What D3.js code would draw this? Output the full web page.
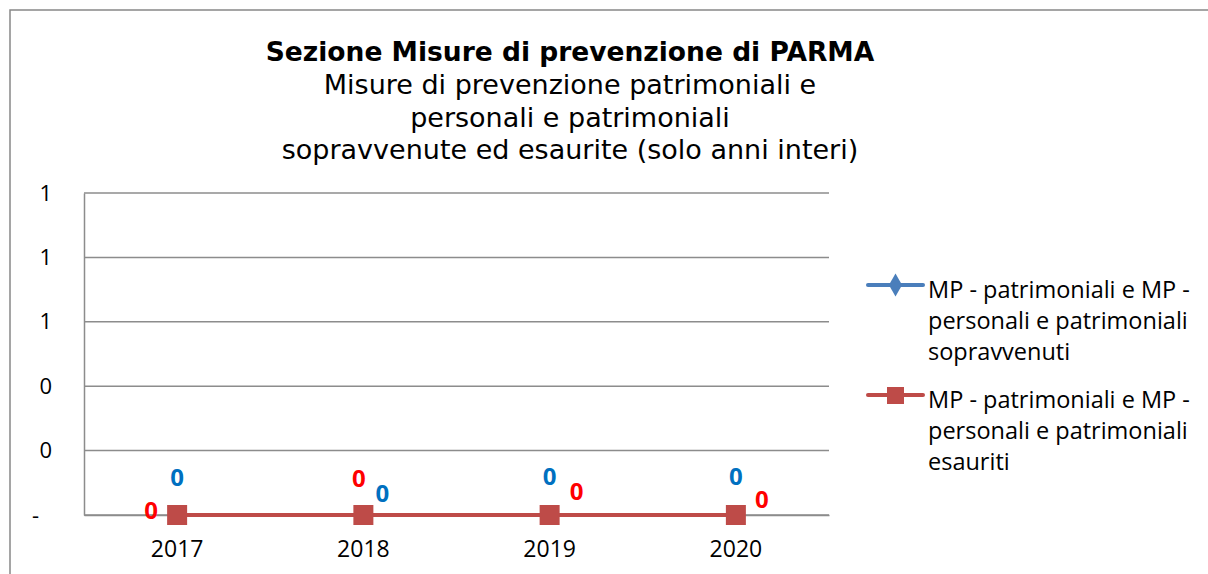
<!DOCTYPE html>
<html lang="it">
<head>
<meta charset="utf-8">
<title>Sezione Misure di prevenzione di PARMA</title>
<script src="https://d3js.org/d3.v7.min.js"></script>
<style>
  body { margin: 0; background: #fff; }
  svg text { font-family: "Open Sans", "Liberation Sans", sans-serif; }
</style>
</head>
<body>
<div id="chart"></div>
<script>
// data
var years = ["2017", "2018", "2019", "2020"];
var sopravvenuti = [0, 0, 0, 0];
var esauriti = [0, 0, 0, 0];
var yTicks = [0, 0.2, 0.4, 0.6, 0.8, 1];
var seriesNames = [
  ["MP - patrimoniali e MP -", "personali e patrimoniali", "sopravvenuti"],
  ["MP - patrimoniali e MP -", "personali e patrimoniali", "esauriti"]
];
var titleLines = ["Misure di prevenzione patrimoniali e", "personali e patrimoniali",
                  "sopravvenute ed esaurite (solo anni interi)"];

var W = 1208, H = 574;
var margin = {top: 193, right: 379, bottom: 59, left: 84},
    width = W - margin.left - margin.right,
    height = H - margin.top - margin.bottom;

var svg = d3.select("#chart").append("svg")
    .attr("width", W).attr("height", H);

// outer chart border
svg.append("rect")
    .attr("x", 10).attr("y", 10)
    .attr("width", W + 10).attr("height", H + 10)
    .attr("fill", "none").attr("stroke", "#888").attr("stroke-width", 1.5);

// title
svg.append("text")
    .attr("x", 570).attr("y", 61)
    .attr("text-anchor", "middle")
    .style("font-family", "'DejaVu Sans', sans-serif")
    .style("font-weight", "bold").style("font-size", "26.5px")
    .text("Sezione Misure di prevenzione di PARMA");
titleLines.forEach(function(t, i) {
  svg.append("text")
    .attr("x", 570).attr("y", 94 + i * 32.5)
    .attr("text-anchor", "middle")
    .style("font-family", "'DejaVu Sans', sans-serif")
    .style("font-size", "27px")
    .text(t);
});

var g = svg.append("g")
    .attr("transform", "translate(" + margin.left + "," + margin.top + ")");

var x = d3.scaleBand().domain(years).range([0, width]);
var y = d3.scaleLinear().domain([0, 1]).range([height, 0]);
var cx = function(d, i) { return x(years[i]) + x.bandwidth() / 2; };

// gridlines
g.selectAll(".grid").data(yTicks).enter().append("line")
    .attr("x1", 0).attr("x2", width)
    .attr("y1", function(d) { return y(d); })
    .attr("y2", function(d) { return y(d); })
    .attr("stroke", "#8c8c8c").attr("stroke-width", 1.5);

// y axis
var yAxis = g.append("g")
    .call(d3.axisLeft(y).tickValues(yTicks).tickSize(0).tickPadding(32)
      .tickFormat(function(d) { return d === 0 ? "-" : d3.format(".0f")(d); }));
yAxis.select(".domain").attr("stroke", "#8c8c8c").attr("stroke-width", 1.5);
yAxis.selectAll("text")
    .style("font-family", "'Open Sans', sans-serif")
    .style("font-size", "22px").attr("fill", "#000")
    .attr("dx", function(d) { return d === 0 ? -13 : 0; });

// x axis
var xAxis = g.append("g")
    .attr("transform", "translate(0," + height + ")")
    .call(d3.axisBottom(x).tickSize(0).tickPadding(26));
xAxis.select(".domain").attr("stroke", "#8c8c8c").attr("stroke-width", 1.5);
xAxis.selectAll("text")
    .style("font-family", "'Open Sans', sans-serif")
    .style("font-size", "23px").attr("fill", "#000");

var line = d3.line().x(cx).y(function(d) { return y(d); });

// series 1 (blue, diamonds) - hidden under series 2 since all values are 0
g.append("path").datum(sopravvenuti)
    .attr("d", line).attr("fill", "none")
    .attr("stroke", "#4a7ebb").attr("stroke-width", 4);
g.selectAll(".dia").data(sopravvenuti).enter().append("path")
    .attr("d", d3.symbol().type(d3.symbolDiamond).size(100))
    .attr("transform", function(d, i) { return "translate(" + cx(d, i) + "," + y(d) + ")"; })
    .attr("fill", "#4a7ebb");

// series 2 (red, squares)
g.append("path").datum(esauriti)
    .attr("d", line).attr("fill", "none")
    .attr("stroke", "#be4b48").attr("stroke-width", 4);
g.selectAll(".sq").data(esauriti).enter().append("rect")
    .attr("x", function(d, i) { return cx(d, i) - 10; })
    .attr("y", function(d) { return y(d) - 10; })
    .attr("width", 20).attr("height", 20)
    .attr("fill", "#be4b48");

// data labels (offsets from the point)
var blueOff = [[0, -37], [19, -21], [0, -38], [0, -38]];
var redOff = [[-26, -4], [-4.5, -36], [27, -23], [26, -15]];
function labels(data, off, color) {
  g.selectAll(null).data(data).enter().append("text")
    .attr("x", function(d, i) { return cx(d, i) + off[i][0]; })
    .attr("y", function(d, i) { return y(d) + off[i][1]; })
    .attr("text-anchor", "middle").attr("dy", "0.35em")
    .style("font-family", "'Open Sans', sans-serif")
    .style("font-weight", "bold").style("font-size", "24px")
    .attr("fill", color)
    .text(function(d) { return d3.format(".0f")(d); });
}
labels(sopravvenuti, blueOff, "#0070c0");
labels(esauriti, redOff, "#ff0000");

// legend
var legend = svg.append("g");
[["#4a7ebb", "diamond"], ["#be4b48", "square"]].forEach(function(s, k) {
  var ly = 285 + k * 110;
  var item = legend.append("g").attr("transform", "translate(868," + ly + ")");
  item.append("line").attr("x1", 0).attr("x2", 55)
      .attr("stroke", s[0]).attr("stroke-width", 4).attr("stroke-linecap", "round");
  if (s[1] === "diamond") {
    item.append("path").attr("transform", "translate(27.5,0)")
        .attr("d", d3.symbol().type(d3.symbolDiamond).size(150)).attr("fill", s[0]);
  } else {
    item.append("rect").attr("x", 19).attr("y", -8).attr("width", 17).attr("height", 17)
        .attr("fill", s[0]);
  }
  seriesNames[k].forEach(function(t, j) {
    item.append("text").attr("x", 60).attr("y", 13 + j * 31)
        .style("font-family", "'Open Sans', sans-serif")
        .style("font-size", "23.5px").attr("fill", "#000")
        .text(t);
  });
});
</script>
</body>
</html>
